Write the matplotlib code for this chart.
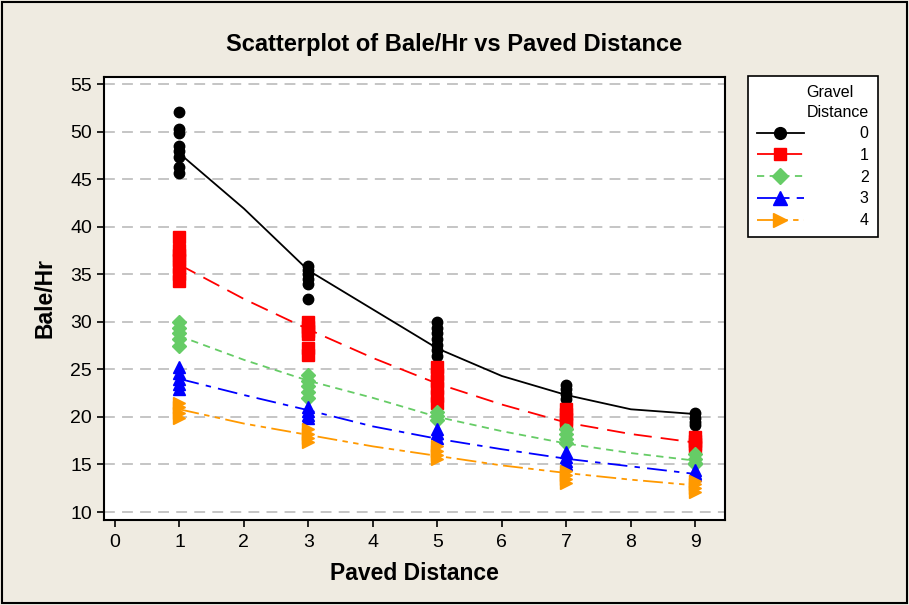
import matplotlib
matplotlib.use("Agg")
import matplotlib.pyplot as plt
from matplotlib.lines import Line2D
from matplotlib.patches import Rectangle

plt.rcParams['font.family'] = ['Liberation Sans', 'DejaVu Sans']

# Paved distance at which the bale rates were measured
paved = [1, 3, 5, 7, 9]
# Smoothed curve read at every integer paved distance
paved_fit = [1, 2, 3, 4, 5, 6, 7, 8, 9]

# Bale/Hr observations, one list per paved distance, for each gravel distance
bale_g0 = [[52.1, 50.3, 49.8, 48.5, 48.0, 47.3, 46.3, 45.6],
           [35.9, 35.4, 35.0, 34.5, 34.0, 32.4],
           [30.0, 29.4, 28.8, 28.2, 27.6, 27.0, 26.4],
           [23.4, 22.9, 22.4, 21.9],
           [20.4, 19.9, 19.5, 19.1]]
bale_g1 = [[38.9, 37.5, 37.0, 36.5, 35.8, 35.0, 34.3],
           [30.0, 29.5, 29.0, 28.7, 27.2, 26.5],
           [25.2, 24.5, 23.8, 23.0, 22.2, 21.5],
           [20.8, 20.3, 19.8, 19.3],
           [17.9, 17.5, 17.1, 16.8]]
bale_g2 = [[30.0, 29.4, 28.8, 28.2, 27.5],
           [24.4, 23.8, 23.2, 22.6, 22.0],
           [20.5, 20.1, 19.7],
           [18.7, 18.2, 17.7, 17.3],
           [16.1, 15.6, 15.2, 15.0]]
bale_g3 = [[25.2, 24.6, 24.0, 23.5, 22.9],
           [21.0, 20.6, 20.2, 19.9],
           [18.7, 18.3, 17.8],
           [16.3, 15.8, 15.4, 15.0],
           [14.4, 14.1, 13.9]]
bale_g4 = [[21.5, 21.0, 20.4, 19.9],
           [18.7, 18.2, 17.8, 17.4],
           [16.9, 16.4, 16.0, 15.6],
           [14.3, 13.9, 13.5, 13.1],
           [13.3, 12.9, 12.5, 12.1]]

fit_g0 = [47.7, 41.9, 35.4, 31.3, 27.2, 24.3, 22.3, 20.8, 20.3]
fit_g1 = [36.0, 32.4, 29.2, 26.2, 23.5, 21.3, 19.4, 18.2, 17.3]
fit_g2 = [28.5, 26.0, 23.8, 22.0, 20.0, 18.5, 17.2, 16.2, 15.4]
fit_g3 = [24.0, 22.3, 20.7, 19.0, 17.7, 16.6, 15.6, 14.8, 14.0]
fit_g4 = [20.8, 19.3, 18.1, 16.9, 15.9, 14.9, 14.1, 13.4, 12.8]

gravel = ["0", "1", "2", "3", "4"]
groups = [bale_g0, bale_g1, bale_g2, bale_g3, bale_g4]
fits = [fit_g0, fit_g1, fit_g2, fit_g3, fit_g4]

colores = ["black", "#ff0000", "#66cc66", "#0000ff", "#ff9900"]
marcas = ["o", "s", "D", "^", ">"]
tamanos = [7.5, 8, 7, 8.5, 8.5]
rayas = [None, (10, 5), (4, 3), (11, 4, 3, 4), (11, 3, 3, 3, 3, 3)]

fig = plt.figure(figsize=(9.09, 6.05), dpi=100)
fig.patch.set_facecolor("#efebe1")
fig.patches.append(Rectangle((0.002, 0.003), 0.996, 0.994, transform=fig.transFigure,
                             fill=False, edgecolor="black", lw=1.5))
ax = fig.add_axes([104/909, 1 - 520/605, (725 - 104)/909, (520 - 77)/605])

ax.set_yticks(range(10, 56, 5))
for yv in range(10, 56, 5):
	ax.axhline(yv, color="#c0c0c0", lw=1.3, dashes=(6, 4), zorder=0)

handles = []
for i in range(5):
	for j in range(len(paved)):
		ax.plot([paved[j]]*len(groups[i][j]), groups[i][j], marcas[i], color=colores[i],
		        ms=tamanos[i], mec=colores[i], zorder=3 + i*0.1)
	if rayas[i] is None:
		ax.plot(paved_fit, fits[i], color=colores[i], lw=1.3, zorder=4)
	else:
		ax.plot(paved_fit, fits[i], color=colores[i], lw=1.3, dashes=rayas[i], zorder=4)
	h = Line2D([], [], color=colores[i], lw=1.3, marker=marcas[i], ms=tamanos[i] + 1,
	           mec=colores[i])
	if rayas[i] is not None:
		h.set_dashes(rayas[i])
	handles.append(h)

ax.set_xlim(-0.17, 9.46)
ax.set_ylim(9.16, 55.74)
ax.set_xticks(range(0, 10))
ax.tick_params(axis="both", labelsize=14, length=5, width=1.2, direction="out")
ax.tick_params(axis="x", pad=5)
for s in ax.spines.values():
	s.set_linewidth(1.5)

fig.text(0.5, 1 - 45/605, "Scatterplot of Bale/Hr vs Paved Distance", ha="center", va="center",
         fontsize=17, fontweight="bold")
ax.set_xlabel("Paved Distance", fontsize=16.5, fontweight="bold", labelpad=8)
ax.set_ylabel("Bale/Hr", fontsize=16.5, fontweight="bold", labelpad=10)

leg = fig.legend(handles, gravel, loc="upper left", bbox_to_anchor=(748/909, 1 - 76/605),
                 title="Gravel\nDistance", alignment="right", fontsize=11.5, title_fontsize=11.5,
                 handlelength=2.95, handletextpad=3.5, numpoints=1, frameon=True, fancybox=False,
                 framealpha=1, edgecolor="black", borderaxespad=0, labelspacing=0.42,
                 borderpad=0.55)
leg.get_title().set_linespacing(1.4)
leg.get_frame().set_linewidth(1.2)

plt.savefig("out.png", dpi=100, facecolor=fig.get_facecolor())
